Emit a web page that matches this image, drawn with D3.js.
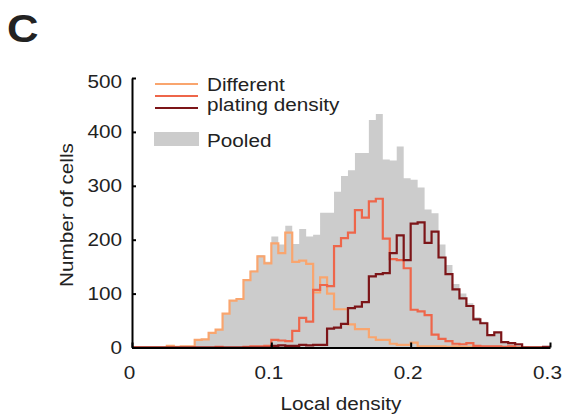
<!DOCTYPE html>
<html>
<head>
<meta charset="utf-8">
<script src="https://cdn.jsdelivr.net/npm/d3@7"></script>
<style>
  html, body { margin: 0; padding: 0; background: #fff; }
  svg { display: block; }
  text { font-family: "Liberation Sans", Arial, Helvetica, sans-serif; fill: #222; }
</style>
</head>
<body>
<svg id="chart" width="564" height="418"></svg>
<script>
// Histogram of local density, bin width 0.005 from 0 to 0.3 (60 bins)
const binWidth = 0.005;
const binStarts = d3.range(60).map(i => i * binWidth);

// Cell counts per bin for each plating density
const lowDensity = [
  0, 0, 0, 0, 0, 3, 1, 2, 2, 14,
  15, 27, 33, 63, 87, 90, 125, 141, 169, 156,
  193, 175, 213, 159, 161, 155, 102, 130, 100, 71,
  71, 43, 34, 34, 19, 14, 14, 7, 5, 5,
  9, 2, 2, 2, 2, 1, 2, 1, 1, 0,
  0, 0, 0, 0, 0, 0, 0, 0, 0, 0
];
const midDensity = [
  0, 0, 0, 0, 0, 0, 0, 0, 0, 0,
  0, 0, 1, 0, 0, 0, 1, 2, 2, 3,
  14, 13, 12, 31, 55, 48, 107, 116, 114, 188,
  203, 213, 255, 241, 271, 276, 202, 164, 162, 147,
  70, 67, 60, 24, 16, 12, 7, 6, 8, 3,
  2, 2, 2, 1, 2, 0, 0, 0, 0, 0
];
const highDensity = [
  0, 0, 0, 0, 0, 0, 0, 0, 0, 0,
  0, 0, 0, 0, 0, 0, 0, 0, 0, 0,
  3, 4, 3, 3, 5, 4, 5, 5, 35, 37,
  44, 73, 76, 84, 132, 136, 138, 175, 208, 162,
  230, 232, 194, 215, 167, 136, 108, 91, 77, 52,
  45, 23, 28, 10, 8, 6, 0, 0, 0, 1
];
const pooled = [
  0, 0, 0, 0, 0, 3, 1, 2, 2, 14,
  15, 27, 34, 63, 87, 90, 126, 143, 171, 159,
  206, 191, 226, 192, 220, 206, 209, 250, 250, 289,
  318, 329, 361, 361, 422, 433, 349, 347, 373, 314,
  311, 297, 256, 249, 191, 153, 118, 100, 82, 56,
  48, 25, 29, 12, 10, 6, 2, 1, 1, 1
];

const xTicks = [0, 0.1, 0.2, 0.3];
const yTicks = [0, 100, 200, 300, 400, 500];
const legendLabels = ["Different", "plating density", "Pooled"];

const colors = {
  low: "#f9a56e",
  mid: "#ee664a",
  high: "#7c1518",
  pooled: "#cccccc"
};

const textStretch = 1.12;   // glyphs in this figure run a little wide
const svg = d3.select("#chart");

const x = d3.scaleLinear().domain([0, 0.3]).range([132, 550]);
const y = d3.scaleLinear().domain([0, 500]).range([347.5, 78]);

// step series: one point per bin start plus the closing edge
function steps(values) {
  const pts = values.map((v, i) => ({ x: binStarts[i], v }));
  pts.push({ x: binStarts[binStarts.length - 1] + binWidth, v: values[values.length - 1] });
  return pts;
}

const area = d3.area()
  .curve(d3.curveStepAfter)
  .x(d => x(d.x))
  .y0(y(0))
  .y1(d => y(d.v));

const line = d3.line()
  .curve(d3.curveStepAfter)
  .x(d => x(d.x))
  .y(d => y(d.v));

// pooled histogram as a filled step area
svg.append("path")
  .datum(steps(pooled))
  .attr("d", area)
  .attr("fill", colors.pooled);

// per-density outlines
[[lowDensity, colors.low], [midDensity, colors.mid], [highDensity, colors.high]].forEach(([vals, c]) => {
  svg.append("path")
    .datum(steps(vals))
    .attr("d", line)
    .attr("fill", "none")
    .attr("stroke", c)
    .attr("stroke-width", 2.2)
    .attr("stroke-linejoin", "miter");
});

// axes
const xAxis = d3.axisBottom(x)
  .tickValues(xTicks)
  .tickSizeInner(-5)
  .tickSizeOuter(0)
  .tickPadding(18.5)
  .tickFormat(d => d === 0 ? "0" : d3.format(".1f")(d));

const yAxis = d3.axisLeft(y)
  .tickValues(yTicks)
  .tickSizeInner(-4)
  .tickSizeOuter(0)
  .tickPadding(10)
  .tickFormat(d3.format("d"));

function styleAxis(g, dxShift) {
  g.select(".domain").attr("stroke", "#000").attr("stroke-width", 2);
  g.selectAll(".tick line").attr("stroke", "#000").attr("stroke-width", 2);
  g.selectAll(".tick text")
    .attr("font-size", 18.5)
    .attr("fill", "#222")
    .style("font-family", '"Liberation Sans", Arial, sans-serif')
    .each(function () {
      const t = d3.select(this);
      const x0 = +(t.attr("x") || 0) + dxShift;
      t.attr("x", x0 / textStretch).attr("transform", `scale(${textStretch},1)`);
    });
}

const gx = svg.append("g")
  .attr("transform", `translate(0,${y(0)})`)
  .call(xAxis)
  .call(styleAxis, -3);

const gy = svg.append("g")
  .attr("transform", `translate(${x(0)},0)`)
  .call(yAxis)
  .call(styleAxis, 0);

// top y label sits slightly below its tick
gy.selectAll(".tick").filter(d => d === 500).select("text").attr("dy", "0.5em");

// titles
svg.append("text")
  .attr("transform", `translate(7,42) scale(${textStretch},1)`)
  .attr("font-size", 39)
  .attr("font-weight", "bold")
  .text("C");

svg.append("text")
  .attr("transform", `translate(73,215) rotate(-90) scale(${textStretch},1)`)
  .attr("text-anchor", "middle")
  .attr("font-size", 18.5)
  .text("Number of cells");

svg.append("text")
  .attr("transform", `translate(341,410) scale(${textStretch},1)`)
  .attr("text-anchor", "middle")
  .attr("font-size", 18.5)
  .text("Local density");

// legend
const legend = svg.append("g");
[[colors.low, 84], [colors.mid, 96], [colors.high, 108]].forEach(([c, ly]) => {
  legend.append("line")
    .attr("x1", 155).attr("x2", 198)
    .attr("y1", ly).attr("y2", ly)
    .attr("stroke", c).attr("stroke-width", 2.2);
});
legend.append("rect")
  .attr("x", 154).attr("y", 132)
  .attr("width", 45).attr("height", 14)
  .attr("fill", colors.pooled);

[[legendLabels[0], 91], [legendLabels[1], 111], [legendLabels[2], 147]].forEach(([t, by]) => {
  legend.append("text")
    .attr("transform", `translate(207,${by}) scale(${textStretch},1)`)
    .attr("font-size", 18.5)
    .text(t);
});
</script>
</body>
</html>
